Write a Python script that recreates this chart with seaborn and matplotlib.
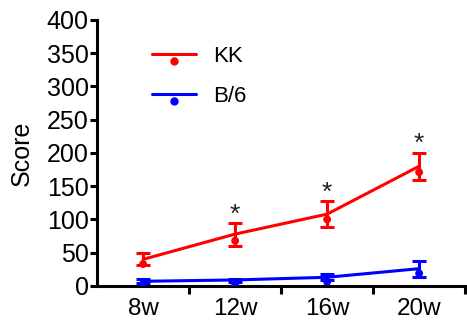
import numpy as np
import pandas as pd
import matplotlib
matplotlib.use('Agg')
import matplotlib.pyplot as plt
import seaborn as sns
from matplotlib.lines import Line2D
from matplotlib.path import Path
from matplotlib.legend_handler import HandlerTuple

# Data
weeks = ['8w', '12w', '16w', '20w']
kk_mean = [40, 78, 108, 180]
kk_point = [33, 68, 100, 171]
kk_upper = [50, 94, 127, 200]
kk_lower = [31, 60, 89, 160]
b6_mean = [7, 9, 13, 26]
b6_point = [3, 3, 6, 19]
b6_upper = [10, 11, 18, 38]
b6_lower = [5, 6, 9, 14]
signif = [False, True, True, True]

df = pd.DataFrame({
    'week': weeks * 2,
    'mean': kk_mean + b6_mean,
    'point': kk_point + b6_point,
    'upper': kk_upper + b6_upper,
    'lower': kk_lower + b6_lower,
    'strain': ['KK'] * 4 + ['B/6'] * 4,
})
df['x'] = df.groupby('strain').cumcount()
colors = {'KK': '#ff0000', 'B/6': '#0000ff'}

sns.set_style('ticks', {'axes.edgecolor': 'black', 'xtick.color': 'black',
                        'ytick.color': 'black', 'text.color': 'black',
                        'axes.labelcolor': 'black'})
plt.rcParams['font.family'] = ['Liberation Sans', 'DejaVu Sans']

fig = plt.figure(figsize=(4.67, 3.22), dpi=100)
ax = fig.add_axes([0.208, 0.112, 0.788, 0.826])

sns.lineplot(data=df, x='x', y='mean', hue='strain', palette=colors,
             linewidth=2.2, legend=False, ax=ax, errorbar=None)
sns.scatterplot(data=df, x='x', y='point', hue='strain', palette=colors,
                s=32, edgecolor='none', legend=False, ax=ax, zorder=3)
for strain, sub in df.groupby('strain'):
    ax.errorbar(sub['x'], sub['mean'],
                yerr=[sub['mean'] - sub['lower'], sub['upper'] - sub['mean']],
                fmt='none', ecolor=colors[strain], elinewidth=2.2,
                capsize=4.7, capthick=2.2)

# significance asterisks
for i, s in enumerate(signif):
    if s:
        ax.text(i, kk_upper[i] + 13, '*', ha='center', va='center',
                fontsize=19, color='#222222')

ax.set_xlim(-0.5, 3.5)
ax.set_ylim(0, 400)
ax.set_yticks(np.arange(0, 401, 50))
ax.set_xticks(range(4))
ax.set_xticklabels(weeks)
ax.tick_params(axis='x', which='major', length=0, labelsize=17.5, pad=9)
ax.set_xticks([0.5, 1.5, 2.5, 3.5], minor=True)
ax.tick_params(axis='x', which='minor', length=6, width=2.2)
ax.tick_params(axis='y', length=5, width=2.2, labelsize=18, pad=1)
ax.set_xlabel('')
ax.set_ylabel('Score', fontsize=18, labelpad=9)
for side in ['left', 'bottom']:
    ax.spines[side].set_linewidth(2.2)
sns.despine(ax=ax)

# legend: line with a dot hanging just below it
dot = Path.circle(center=(0, -0.9), radius=0.45)
handles = []
for strain in ['KK', 'B/6']:
    ln = Line2D([], [], color=colors[strain], linewidth=2.2)
    mk = Line2D([], [], color=colors[strain], marker=dot, markersize=15,
                linestyle='none')
    handles.append((ln, mk))
ax.legend(handles, ['KK', 'B/6'], handler_map={tuple: HandlerTuple(ndivide=1, pad=0)},
          loc='upper left', bbox_to_anchor=(0.125, 0.935), frameon=False,
          fontsize=16, handlelength=2.0, labelspacing=0.85, handletextpad=0.75,
          borderaxespad=0)

fig.savefig('out.png', dpi=100)
